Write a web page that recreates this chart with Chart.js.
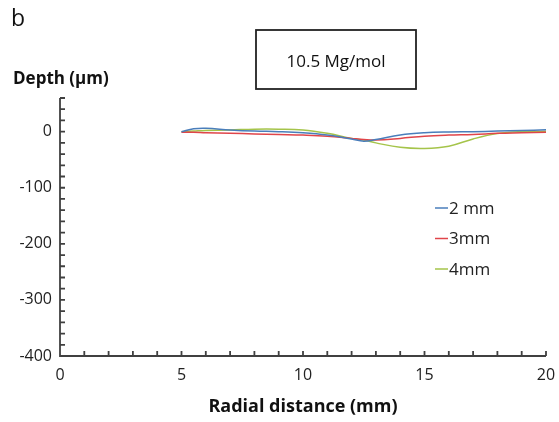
<!DOCTYPE html>
<html>
<head>
<meta charset="utf-8">
<script src="https://cdn.jsdelivr.net/npm/chart.js@4.4.0/dist/chart.umd.min.js"></script>
<style>
  html, body { margin: 0; padding: 0; background: #fff; }
  #wrap { width: 559px; height: 422px; position: relative; }
</style>
</head>
<body>
<div id="wrap"><canvas id="depth-chart" width="559" height="422"></canvas></div>
<script>
// Radial distance (mm), shared by all three profiles
const distance = [5, 5.5, 6, 7, 8, 9, 10, 11, 12, 12.5, 13, 14, 15, 16, 17, 18, 19, 20]
// Depth (µm) per distance
const depth2mm = [0, 5, 6, 3, 1, 0, -2, -6, -13, -17, -14, -6, -2, -0.5, 0, 1, 2, 3.5]
const depth3mm = [-1, -1, -2, -3, -4, -5, -6, -8, -12, -14, -15, -12, -8, -6, -5, -3, -2, -1]
const depth4mm = [0, 1, 2, 3, 4.5, 4.5, 3, -3, -12, -15, -20, -28, -30, -26, -13, -3.5, 0, 0.5]

const seriesNames = ["2 mm", "3mm", "4mm"]
const seriesColors = ["#4a7ebb", "#e0454a", "#a5c44a"]
const xTicks = [0, 5, 10, 15, 20]
const yTicks = [0, -100, -200, -300, -400]

const FONT = "'Open Sans', sans-serif"
const AXIS = "#404040"

const toPoints = (ys) => distance.map((x, i) => ({ x: x, y: ys[i] }))

// axis ticks point inwards, minor ticks every 1 mm / 20 µm
const axisTicks = {
  id: "axisTicks",
  afterDraw(chart) {
    const ctx = chart.ctx
    const xs = chart.scales.x
    const ys = chart.scales.y
    const a = chart.chartArea
    ctx.save()
    ctx.strokeStyle = AXIS
    ctx.lineWidth = 1.8
    ctx.beginPath()
    ctx.moveTo(a.left, a.top)
    ctx.lineTo(a.left, a.bottom)
    ctx.lineTo(a.right, a.bottom)
    for (let v = 1; v <= 20; v++) {
      const px = xs.getPixelForValue(v)
      ctx.moveTo(px, a.bottom)
      ctx.lineTo(px, a.bottom - 5)
    }
    for (let v = -380; v <= 60; v += 20) {
      const py = ys.getPixelForValue(v)
      ctx.moveTo(a.left, py)
      ctx.lineTo(a.left + 5, py)
    }
    ctx.stroke()
    ctx.restore()
  },
}

// labels, title box and in-plot legend
const annotations = {
  id: "annotations",
  afterDraw(chart) {
    const ctx = chart.ctx
    ctx.save()
    ctx.fillStyle = "#111"
    ctx.textBaseline = "middle"
    ctx.textAlign = "left"
    ctx.font = "23px " + FONT
    ctx.fillText("b", 11, 19)
    ctx.font = "bold 17px " + FONT
    ctx.fillText("Depth (µm)", 13, 79)

    // title box
    ctx.strokeStyle = "#222"
    ctx.lineWidth = 1.8
    ctx.strokeRect(256, 30, 160, 59)
    ctx.textAlign = "center"
    ctx.font = "17px " + FONT
    ctx.fillText("10.5 Mg/mol", 336, 62)

    // legend
    ctx.textAlign = "left"
    ctx.font = "17px " + FONT
    chart.data.datasets.forEach((ds, i) => {
      const y = 208 + i * 30.5
      ctx.strokeStyle = ds.borderColor
      ctx.lineWidth = 1.5
      ctx.beginPath()
      ctx.moveTo(435, y)
      ctx.lineTo(448, y)
      ctx.stroke()
      ctx.fillStyle = "#222"
      ctx.fillText(ds.label, 449, y + 1)
    })
    ctx.restore()
  },
}

const makeDataset = (name, ys, color) => ({
  label: name,
  data: toPoints(ys),
  borderColor: color,
  backgroundColor: color,
  borderWidth: 1.5,
  pointRadius: 0,
  tension: 0.4,
  fill: false,
})

new Chart(document.getElementById("depth-chart"), {
  type: "line",
  data: {
    datasets: [
      makeDataset(seriesNames[0], depth2mm, seriesColors[0]),
      makeDataset(seriesNames[1], depth3mm, seriesColors[1]),
      makeDataset(seriesNames[2], depth4mm, seriesColors[2]),
    ],
  },
  options: {
    responsive: false,
    animation: false,
    layout: { padding: { top: 98, right: 13, left: 0, bottom: 0 } },
    plugins: { legend: { display: false }, tooltip: { enabled: false } },
    scales: {
      x: {
        type: "linear",
        min: 0,
        max: 20,
        grid: { display: false, drawTicks: false },
        border: { display: false },
        afterBuildTicks: (s) => { s.ticks = xTicks.map((v) => ({ value: v })) },
        afterFit: (s) => {
          s.height = 66
          // let the "20" label hang over the edge like the original
          s.paddingLeft = 0
          s.paddingRight = 0
        },
        ticks: { padding: 10, color: "#222", font: { family: FONT, size: 16 } },
        title: {
          display: true,
          text: "Radial distance (mm)",
          color: "#111",
          font: { family: FONT, size: 18, weight: "bold" },
          padding: { top: 4 },
        },
      },
      y: {
        type: "linear",
        min: -400,
        max: 60,
        grid: { display: false, drawTicks: false },
        border: { display: false },
        afterBuildTicks: (s) => { s.ticks = yTicks.map((v) => ({ value: v })) },
        afterFit: (s) => { s.width = 60 },
        ticks: { padding: 8, color: "#222", font: { family: FONT, size: 16 } },
      },
    },
  },
  plugins: [axisTicks, annotations],
})
</script>
</body>
</html>
